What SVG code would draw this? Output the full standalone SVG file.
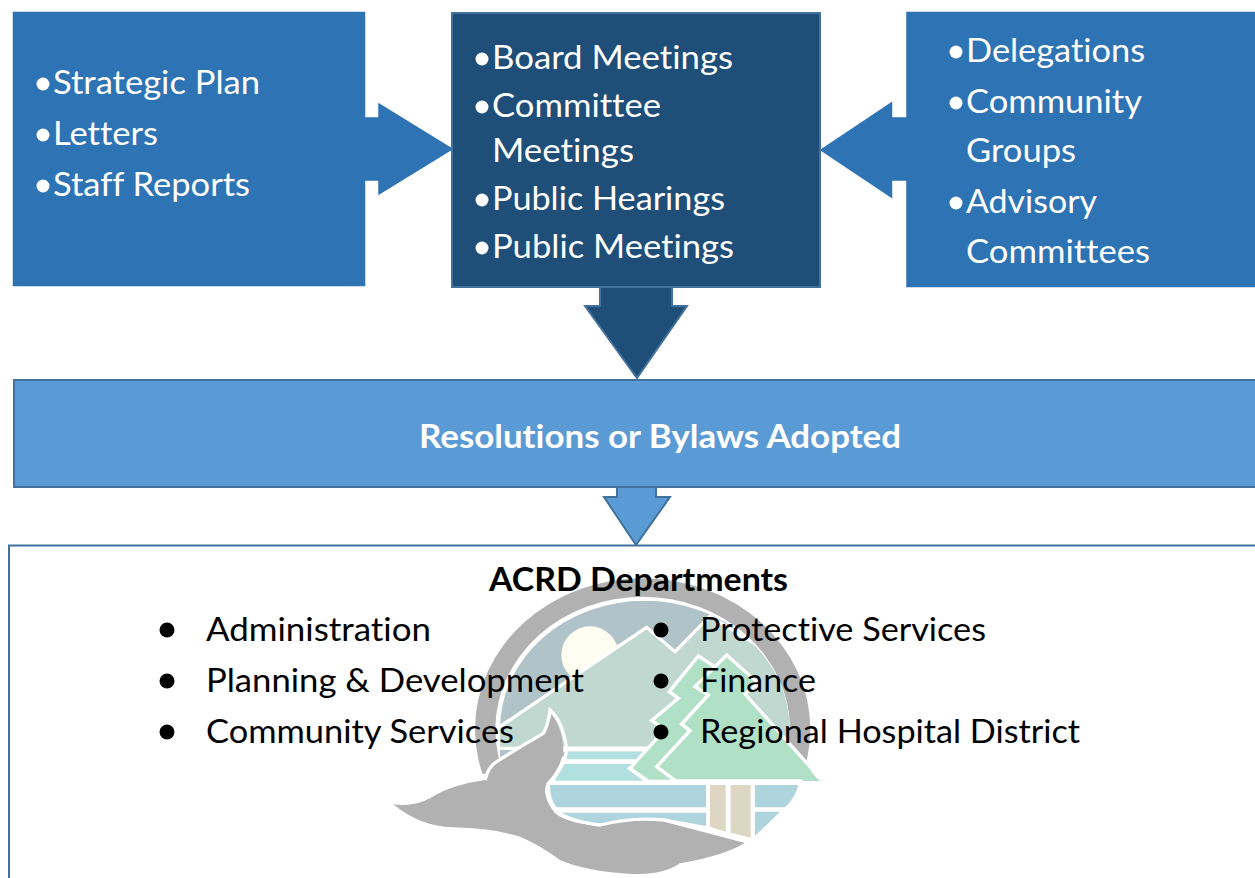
<svg xmlns="http://www.w3.org/2000/svg" width="1255" height="878" viewBox="0 0 1255 878">
<style>
text{font-family:Lato,"Liberation Sans",sans-serif;font-size:33px;font-variant-ligatures:none}
.w{fill:#fff}.k{fill:#000}.b{font-weight:700}
.blue{fill:#2e74b5;stroke:#2e74b5;stroke-width:1.5}
.navy{fill:#1f4e79;stroke:#41719c;stroke-width:2}
.band{fill:#5b9bd5;stroke:#41719c;stroke-width:2}
.logo{stroke:#fff;stroke-width:10;stroke-linejoin:miter}
</style>
<defs>
<clipPath id="disc"><path d="M360 477A434 385 0 0 1 1228 477V900H360Z"/></clipPath>
<clipPath id="ringcut"><path d="M200 -50H1400V578L1287 582L305 612H200Z"/></clipPath>
</defs>
<rect width="1255" height="878" fill="#fff"/>
<g id="connectors">
<path class="blue" d="M364 118H379V104L452 149L379 194V180H364Z"/>
<path class="blue" d="M907 118H891.500V103L821 150L891.500 197V180H907Z"/>
<path class="navy" d="M600 286V306H585L637 378L687 306H672V286"/>
<path class="band" d="M617 487V497H604L636 545L670 497H656V487"/>
</g>
<g id="inputs">
<rect class="blue" x="13.500" y="12.500" width="351" height="273"/>
<g fill="#fff"><circle cx="43" cy="84" r="6.500"/><circle cx="43" cy="135" r="6.500"/><circle cx="43" cy="186" r="6.500"/></g>
<text class="w" x="53" y="94" textLength="207" lengthAdjust="spacingAndGlyphs">Strategic Plan</text>
<text class="w" x="53" y="145" textLength="105" lengthAdjust="spacingAndGlyphs">Letters</text>
<text class="w" x="53" y="196" textLength="197" lengthAdjust="spacingAndGlyphs">Staff Reports</text>
</g>
<g id="meetings">
<rect class="navy" x="452" y="13" width="368" height="274"/>
<g fill="#fff"><circle cx="482" cy="59" r="6.500"/><circle cx="482" cy="107" r="6.500"/><circle cx="482" cy="200" r="6.500"/><circle cx="482" cy="248" r="6.500"/></g>
<text class="w" x="492" y="69" textLength="241" lengthAdjust="spacingAndGlyphs">Board Meetings</text>
<text class="w" x="492" y="117" textLength="169" lengthAdjust="spacingAndGlyphs">Committee</text>
<text class="w" x="492" y="162" textLength="142" lengthAdjust="spacingAndGlyphs">Meetings</text>
<text class="w" x="492" y="210" textLength="233" lengthAdjust="spacingAndGlyphs">Public Hearings</text>
<text class="w" x="492" y="258" textLength="242" lengthAdjust="spacingAndGlyphs">Public Meetings</text>
</g>
<g id="community">
<rect class="blue" x="907" y="12.500" width="349" height="274"/>
<g fill="#fff"><circle cx="956" cy="52" r="6.500"/><circle cx="956" cy="103" r="6.500"/><circle cx="956" cy="203" r="6.500"/></g>
<text class="w" x="966" y="62" textLength="179" lengthAdjust="spacingAndGlyphs">Delegations</text>
<text class="w" x="966" y="113" textLength="176" lengthAdjust="spacingAndGlyphs">Community</text>
<text class="w" x="966" y="162" textLength="110" lengthAdjust="spacingAndGlyphs">Groups</text>
<text class="w" x="966" y="213" textLength="131" lengthAdjust="spacingAndGlyphs">Advisory</text>
<text class="w" x="966" y="263" textLength="184" lengthAdjust="spacingAndGlyphs">Committees</text>
</g>
<g id="resolutions">
<rect class="band" x="14" y="380" width="1243" height="107"/>
<text class="w b" x="419" y="448" textLength="482" lengthAdjust="spacingAndGlyphs">Resolutions or Bylaws Adopted</text>
</g>
<g id="departments">
<rect x="9" y="545.500" width="1250" height="340" fill="#fff" stroke="#41719c" stroke-width="2"/>
<g id="logo" transform="translate(380 570) scale(.33333)">
<path clip-path="url(#ringcut)" fill-rule="evenodd" fill="#b1b1b1" d="M285 478A503 453 0 1 1 1291 478A503 453 0 1 1 285 478ZM346 478A442 398 0 1 0 1230 478A442 398 0 1 0 346 478Z"/>
<g clip-path="url(#disc)">
<rect x="340" y="80" width="900" height="480" fill="#b0c3c9"/>
<circle cx="630" cy="255" r="86" fill="#fffdf2"/>
<path class="logo" d="M330 490L800 172L885 245L990 138L1250 300V535H330Z" fill="#c0d8d0"/>
</g>
<rect x="540" y="530" width="300" height="15" fill="#fff"/>
<path d="M560 545H790L770 568H553Z" fill="#b2dfe0"/>
<path d="M547 582H760L740 595L790 632H525Z" fill="#b2dfe0"/>
<path d="M510 645H978V712H530Q510 690 510 645Z" fill="#aed4de"/>
<path d="M1125 645H1255Q1245 685 1215 712H1125Z" fill="#aed4de"/>
<path d="M535 728H978V768L850 745L660 762L570 750Z" fill="#aed4de"/>
<path d="M1125 725H1200L1125 798Z" fill="#aed4de"/>
<path d="M990 645H1037V785L990 770Z" fill="#ddd6c3"/>
<path d="M1052 645H1112V803L1052 788Z" fill="#ddd6c3"/>
<path d="M955 258L1035 310L985 375L905 462L930 482L835 590L890 634H805L750 595L855 478L815 452L895 385L868 365Z" fill="#b0e0c6" stroke="#fff" stroke-width="10"/>
<path d="M1040 255L1135 340L1095 372L1290 590L1320 633H888L830 590L930 482L905 462L985 375L945 350Z" fill="#b0e0c6" stroke="#fff" stroke-width="10"/>
<path d="M1320 633H1270L1160 480Z" fill="#b0e0c6"/>
<path d="M40 703Q100 712 150 685Q210 645 315 630Q325 590 350 575Q420 530 490 490Q505 465 515 435Q545 470 550 540Q545 590 500 640Q485 680 525 730Q570 765 660 765Q760 740 850 750L1100 815Q1040 855 900 880Q850 915 760 912Q620 905 540 870Q480 825 420 800Q340 775 220 772Q120 770 40 703Z" fill="#b1b1b1"/>
<path d="M315 630Q325 590 350 575Q420 530 490 490Q505 465 510 420Q550 455 560 540Q555 590 505 640Q490 680 530 725Q575 755 660 765Q760 740 850 750L1100 815" fill="none" stroke="#fff" stroke-width="10"/>
</g>
<text class="k b" x="489" y="591" textLength="299" lengthAdjust="spacingAndGlyphs">ACRD Departments</text>
<g fill="#000"><circle cx="167" cy="630" r="7.500"/><circle cx="167" cy="681" r="7.500"/><circle cx="167" cy="732" r="7.500"/><circle cx="661" cy="630" r="7.500"/><circle cx="661" cy="681" r="7.500"/><circle cx="661" cy="732" r="7.500"/></g>
<text class="k" x="206" y="641" textLength="225" lengthAdjust="spacingAndGlyphs">Administration</text>
<text class="k" x="206" y="692" textLength="378" lengthAdjust="spacingAndGlyphs">Planning &amp; Development</text>
<text class="k" x="206" y="743" textLength="308" lengthAdjust="spacingAndGlyphs">Community Services</text>
<text class="k" x="700" y="641" textLength="286" lengthAdjust="spacingAndGlyphs">Protective Services</text>
<text class="k" x="700" y="692" textLength="116" lengthAdjust="spacingAndGlyphs">Finance</text>
<text class="k" x="700" y="743" textLength="380" lengthAdjust="spacingAndGlyphs">Regional Hospital District</text>
</g>
</svg>
